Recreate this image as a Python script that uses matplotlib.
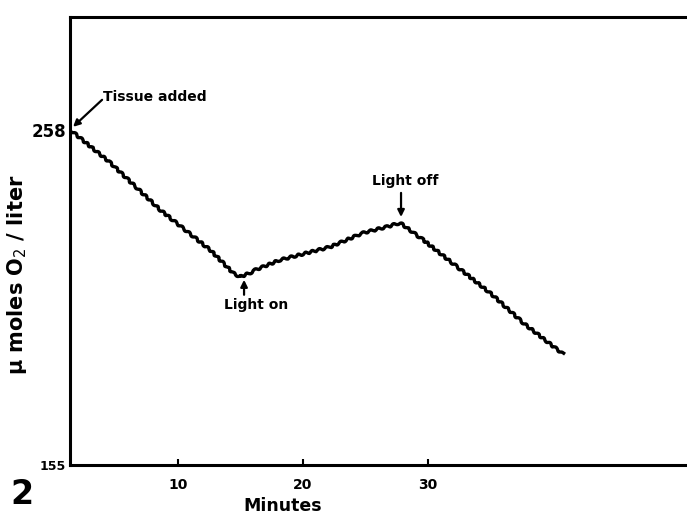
import matplotlib
matplotlib.use('Agg')
import matplotlib.pyplot as plt

# trace (minutes, umol O2 / liter)
minutes = [1.36, 4.56, 8.56, 12.56, 14.4, 14.96, 15.76, 16.16, 18.16,
           22.16, 24.8, 26.72, 27.76, 29.6, 32.32, 34.96, 37.6, 40.8]
oxygen = [258.0, 247.9, 233.4, 221.1, 214.0, 212.8, 214.0, 214.9, 218.0,
          222.0, 226.3, 228.2, 229.4, 224.2, 215.9, 207.9, 198.7, 189.1]

x_ticks = [10, 20, 30]
y_ticks = [155, 258]


def main():
    fig = plt.figure(figsize=(6.87, 5.14), dpi=100)
    ax = fig.add_axes([0.102, 0.0953, 0.898, 0.872])

    line, = ax.plot(minutes, oxygen, color='black', lw=2.4, solid_joinstyle='round')
    line.set_sketch_params(scale=1.1, length=8, randomness=1.5)

    ax.set_xlim(1.36, 50.72)
    ax.set_ylim(155, 292.7)

    ax.set_xticks(x_ticks)
    ax.set_yticks(y_ticks)
    ax.tick_params(axis='x', direction='in', length=4, width=1.5, pad=9,
                   labelsize=10)
    ax.tick_params(axis='y', length=0, pad=3, labelsize=12)
    for lab in ax.get_xticklabels() + ax.get_yticklabels():
        lab.set_fontweight('bold')
    ax.get_yticklabels()[0].set_fontsize(9)

    # frame: left, top, bottom only
    for side in ['left', 'top', 'bottom']:
        ax.spines[side].set_linewidth(2.2)
    ax.spines['right'].set_visible(False)

    ax.set_xlabel('Minutes', fontsize=12.5, fontweight='bold')
    ax.xaxis.set_label_coords(0.344, -0.072)
    ax.set_ylabel('μ moles O$_2$ / liter', fontsize=15, fontweight='bold')
    ax.yaxis.set_label_coords(-0.066, 0.424)

    arrow = dict(arrowstyle='-|>', color='black', lw=1.6, mutation_scale=10,
                 shrinkA=0, shrinkB=0)
    ax.annotate('', xy=(1.6, 258.9), xytext=(3.92, 267.2), arrowprops=arrow)
    ax.text(4.0, 268.1, 'Tissue added', fontsize=10, fontweight='bold',
            ha='left', va='center')
    ax.annotate('', xy=(15.28, 211.9), xytext=(15.28, 207.3), arrowprops=arrow)
    ax.text(16.24, 204.2, 'Light on', fontsize=10, fontweight='bold',
            ha='center', va='center')
    ax.annotate('', xy=(27.84, 231.2), xytext=(27.84, 238.6), arrowprops=arrow)
    ax.text(28.16, 242.3, 'Light off', fontsize=10, fontweight='bold',
            ha='center', va='center')

    fig.text(0.032, 0.037, '2', fontsize=24, fontweight='bold',
             ha='center', va='center')

    fig.savefig('out.png', dpi=100)


if __name__ == '__main__':
    main()
